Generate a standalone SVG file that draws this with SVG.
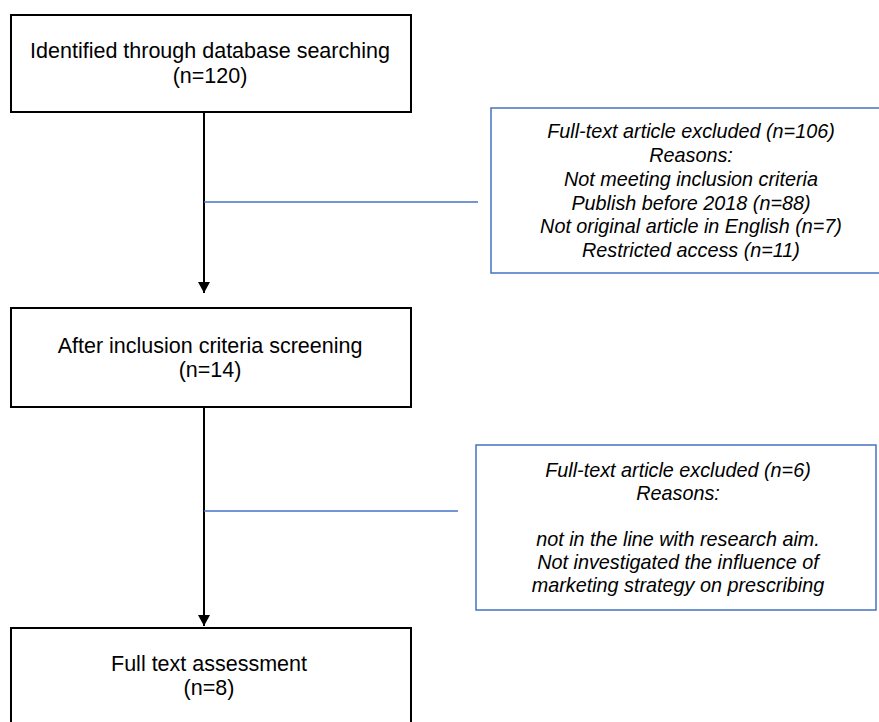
<svg xmlns="http://www.w3.org/2000/svg" width="879" height="722" viewBox="0 0 879 722">
<style>
.box{fill:#fff;stroke:#000;stroke-width:2}
.bbox{fill:#fff;stroke:#4472C4;stroke-width:1.5}
.t{font-family:"Liberation Sans",Arial,sans-serif;font-size:21.5px;fill:#000;text-anchor:middle}
.it{font-family:"Liberation Sans",Arial,sans-serif;font-size:19.8px;font-style:italic;fill:#000;text-anchor:middle}
.arr{stroke:#000;stroke-width:2;fill:none}
.bl{stroke:#4472C4;stroke-width:1.5;fill:none}
</style>
<defs>
<marker id="ah" markerWidth="11" markerHeight="12" refX="11" refY="6" orient="auto" markerUnits="userSpaceOnUse">
<path d="M0,0 L11,6 L0,12 Z" fill="#000"/>
</marker>
</defs>
<rect width="879" height="722" fill="#fff"/>
<g id="connectors">
<line class="arr" x1="204" y1="113" x2="204" y2="293" marker-end="url(#ah)"/>
<line class="arr" x1="204" y1="407" x2="204" y2="626" marker-end="url(#ah)"/>
<line class="bl" x1="204" y1="202" x2="478" y2="202"/>
<line class="bl" x1="204" y1="511" x2="458" y2="511"/>
</g>
<g id="n1">
<rect class="box" x="11" y="15" width="400" height="97"/>
<text class="t" x="210" y="58">Identified through database searching</text>
<text class="t" x="210" y="83">(n=120)</text>
</g>
<g id="n2">
<rect class="box" x="11" y="308" width="400" height="99"/>
<text class="t" x="210" y="353">After inclusion criteria screening</text>
<text class="t" x="210" y="377">(n=14)</text>
</g>
<g id="n3">
<rect class="box" x="11" y="628" width="400" height="110"/>
<text class="t" x="209" y="671">Full text assessment</text>
<text class="t" x="209" y="695">(n=8)</text>
</g>
<g id="e1">
<rect class="bbox" x="491" y="108" width="400" height="165"/>
<text class="it" x="691" y="138">Full-text article excluded (n=106)</text>
<text class="it" x="691" y="162">Reasons:</text>
<text class="it" x="691" y="186">Not meeting inclusion criteria</text>
<text class="it" x="691" y="210">Publish before 2018 (n=88)</text>
<text class="it" x="691" y="233">Not original article in English (n=7)</text>
<text class="it" x="691" y="257">Restricted access (n=11)</text>
</g>
<g id="e2">
<rect class="bbox" x="476" y="445" width="400" height="165"/>
<text class="it" x="678" y="477">Full-text article excluded (n=6)</text>
<text class="it" x="678" y="500">Reasons:</text>
<text class="it" x="678" y="546">not in the line with research aim.</text>
<text class="it" x="678" y="569">Not investigated the influence of</text>
<text class="it" x="678" y="592">marketing strategy on prescribing</text>
</g>
</svg>
